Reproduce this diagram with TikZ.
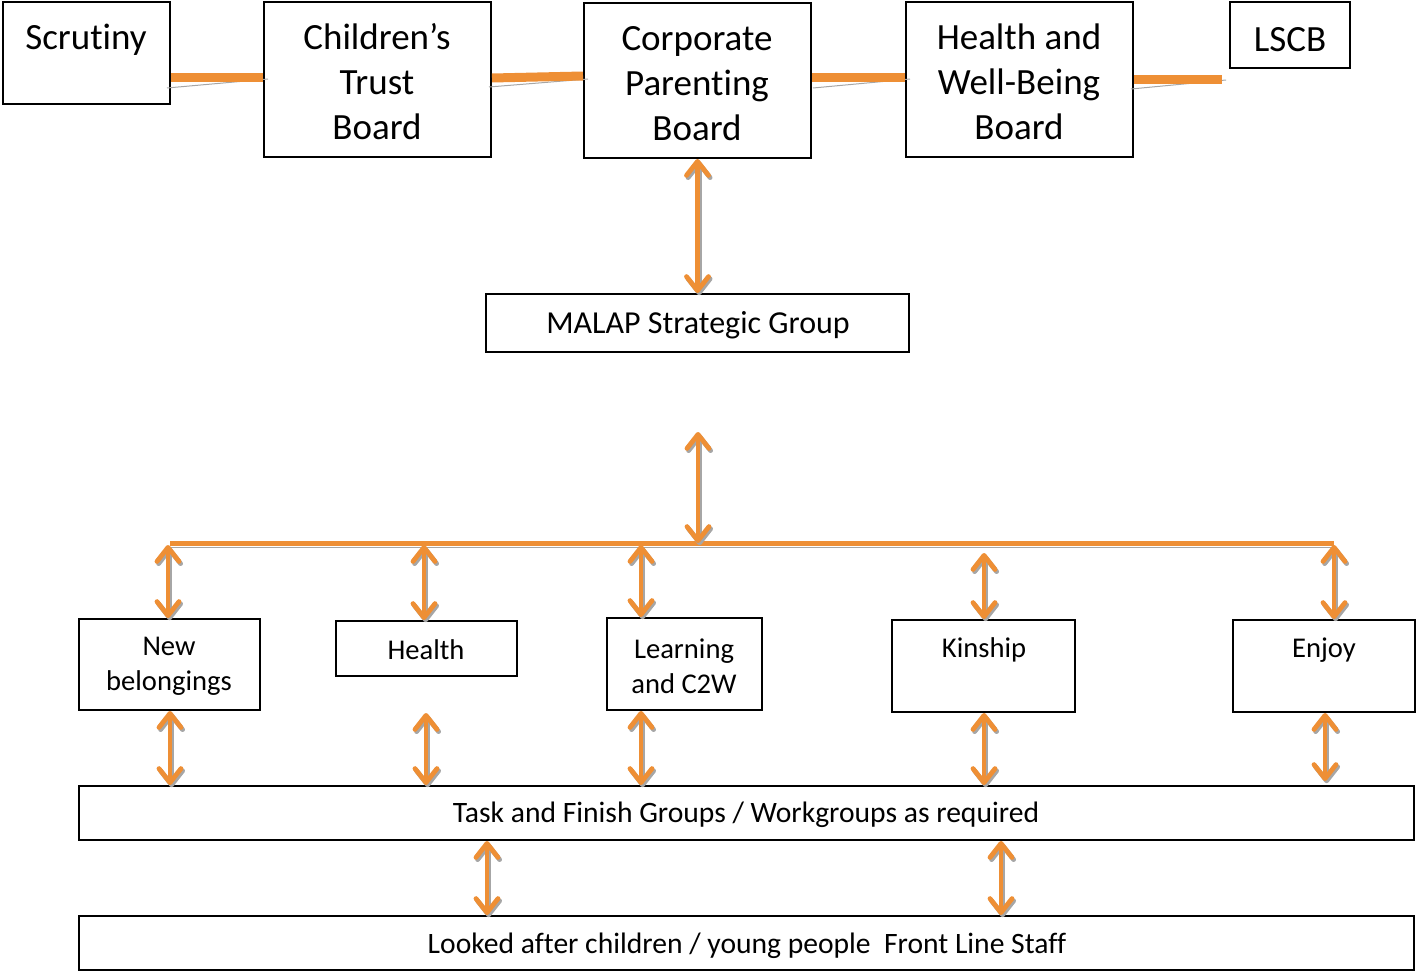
\documentclass[tikz,border=0pt]{standalone}
\usepackage{fontspec}
\setmainfont{Carlito}[Ligatures=NoCommon]
\usetikzlibrary{arrows.meta,fit}
\definecolor{org}{HTML}{EE8F35}
\newcommand\biarrow[2]{%
  \draw[arrsh] #1 -- #2;
  \draw[arr] #1 -- #2;}
\begin{document}
\begin{tikzpicture}[x=0.5pt,y=-0.5pt,
  box/.style={draw, line width=1pt, inner sep=0pt},
  big/.style={font=\fontsize{18.5pt}{22.5pt}\selectfont, align=center, inner sep=0pt},
  small/.style={font=\fontsize{14.3pt}{17.5pt}\selectfont, align=center, inner sep=0pt},
  mid/.style={font=\fontsize{14.8pt}{18pt}\selectfont, align=center, inner sep=0pt},
  bar/.style={draw=org, line width=4.5pt},
  hub/.style={draw=org, line width=2.5pt},
  thinline/.style={draw=gray!70, line width=0.5pt},
  tipb/.tip={Straight Barb[length=7pt,width=11pt,line cap=round,line join=round]},
  arr/.style={draw=org, line width=2.4pt, tipb-tipb},
  arrsh/.style={draw=gray!70, line width=2.4pt, tipb-tipb,
    transform canvas={shift={(0.8pt,-1.1pt)}}}]
\useasboundingbox (0,0) rectangle (1416,974);
% top boxes
\node[box, fit={(3,2)(170,104)}] (scr) {};
\node[big] (scrt) at (86,40) {Scrutiny};
\node[box, fit={(264,2)(491,157)}] (ctb) {};
\node[big] (ctbt) at (377,82) {Children’s\\Trust\\Board};
\node[box, fit={(584,3)(811,158)}] (cpb) {};
\node[big] (cpbt) at (697,84) {Corporate\\Parenting\\Board};
\node[box, fit={(906,2)(1133,157)}] (hwb) {};
\node[big] (hwbt) at (1019,82) {Health and\\Well-Being\\Board};
\node[box, fit={(1230,2)(1350,68)}] (lscb) {};
\node[big] (lscbt) at (1290,40) {LSCB};
\coordinate (lend) at (1222,80);
% top connectors
\draw[thinline] (167,88) -- (268,79);
\draw[bar] (scr.east |- 0,78) -- (ctb.west |- 0,78);
\draw[thinline] (489,87) -- (588,79);
\draw[bar] (ctb.east |- 0,78) -- (cpb.west |- 0,76);
\draw[thinline] (813,88) -- (910,79);
\draw[bar] (cpb.east |- 0,78) -- (hwb.west |- 0,78);
\draw[thinline] (1131,89) -- (1226,80);
\draw[bar] (hwb.east |- lend) -- (lend);
% MALAP
\node[box, fit={(486,294)(909,352)}] (mal) {};
\node[font=\fontsize{16pt}{19pt}\selectfont, inner sep=0pt] (malt) at (698,325) {MALAP Strategic Group};
\biarrow{(cpb.south)}{(mal.north)}
% hub
\coordinate (hl) at (170,543);
\coordinate (hr) at (1334,543);
\coordinate (hc) at (698,543);
\coordinate (mtop) at (698,432);
\draw[thinline] (170,547) -- (1334,547);
\draw[hub] (hl) -- (hr);
\biarrow{(mtop)}{(hc)}
% middle boxes
\node[box, fit={(79,619)(260,710)}] (nb) {};
\node[small] (nbt) at (169,666) {New\\belongings};
\node[box, fit={(336,621)(517,676)}] (hl2) {};
\node[small] (hlt) at (426,650) {Health};
\node[box, fit={(607,618)(762,710)}] (lc) {};
\node[small] (lct) at (684,666) {Learning\\and C2W};
\node[box, fit={(892,620)(1075,712)}] (kin) {};
\node[small] (kint) at (984,650) {Kinship};
\node[box, fit={(1233,620)(1415,712)}] (enj) {};
\node[small] (enjt) at (1324,650) {Enjoy};
% task and front line
\node[box, fit={(79,786)(1414,840)}] (task) {};
\node[mid] (taskt) at (746,815) {Task and Finish Groups / Workgroups as required};
\node[box, fit={(79,916)(1414,970)}] (fl) {};
\node[mid] (flt) at (747,946) {Looked after children / young people\ \ Front Line Staff};
% hub to boxes
\biarrow{(168,545)}{(168,0 |- nb.north)}
\biarrow{(424,545)}{(424,0 |- hl2.north)}
\biarrow{(641,545)}{(641,0 |- lc.north)}
\biarrow{(984,553)}{(984,0 |- kin.north)}
\biarrow{(1334,545)}{(1334,0 |- enj.north)}
% boxes to task
\biarrow{(170,0 |- nb.south)}{(170,0 |- task.north)}
\biarrow{(426,713)}{(426,0 |- task.north)}
\biarrow{(641,0 |- lc.south)}{(641,0 |- task.north)}
\biarrow{(984,0 |- kin.south)}{(984,0 |- task.north)}
\biarrow{(1325,0 |- enj.south)}{(1325,781)}
% task to front line
\biarrow{(487,0 |- task.south)}{(487,0 |- fl.north)}
\biarrow{(1001,0 |- task.south)}{(1001,0 |- fl.north)}
\end{tikzpicture}
\end{document}
